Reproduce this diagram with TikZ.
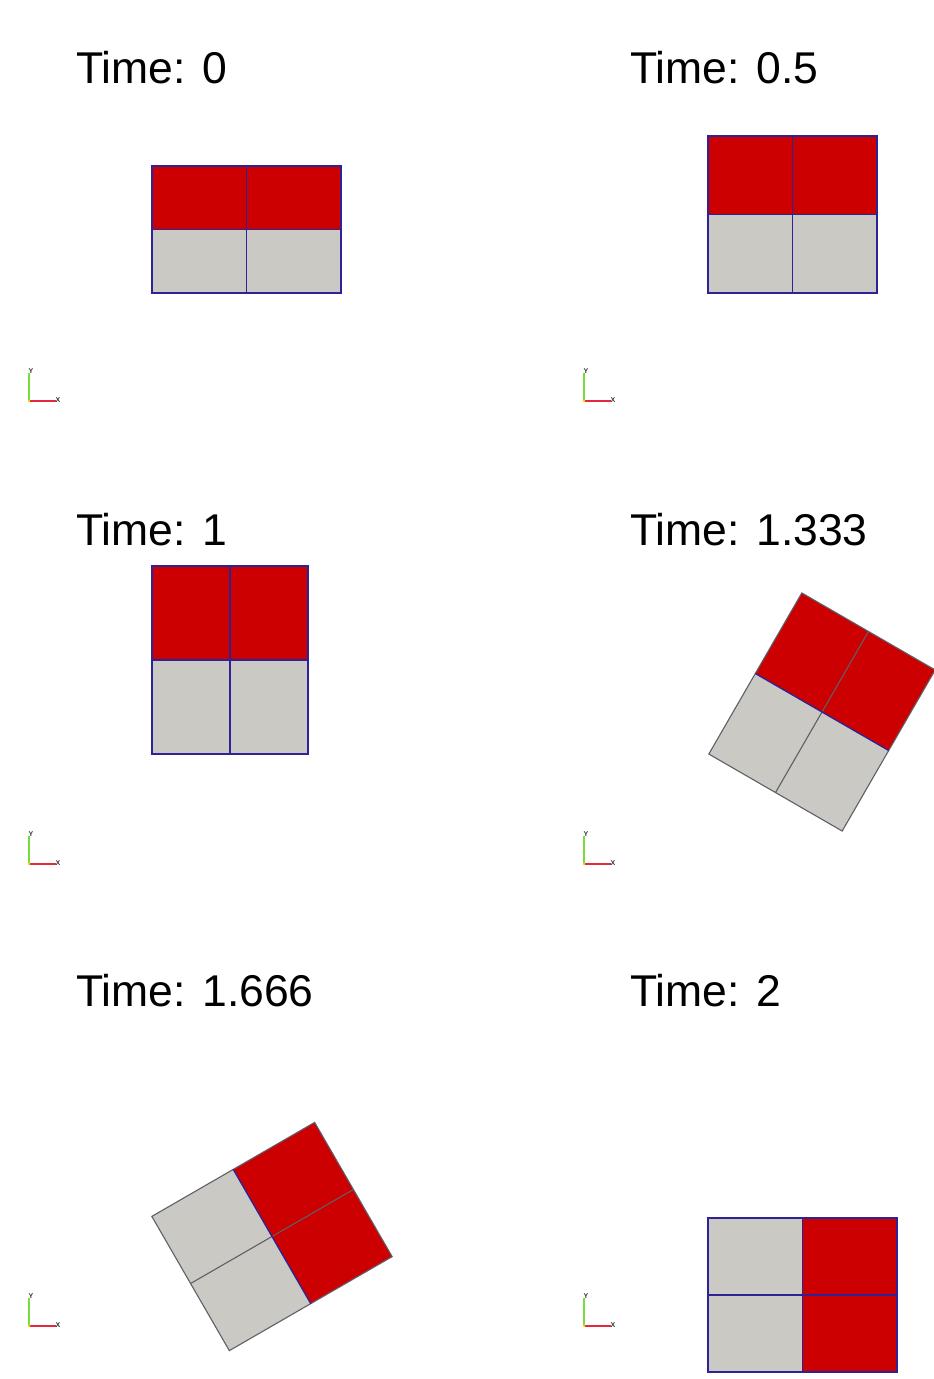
\documentclass[tikz,border=0pt]{standalone}
\usepackage{fontspec}
\setmainfont{Liberation Sans}
\definecolor{cellred}{RGB}{204,0,0}
\definecolor{cellgray}{RGB}{203,201,195}
\definecolor{edgeblue}{RGB}{45,35,150}
\definecolor{edgegray}{RGB}{95,95,105}
\definecolor{axred}{RGB}{230,40,60}
\definecolor{axgreen}{RGB}{120,220,60}
\begin{document}
\begin{tikzpicture}[x=1pt,y=-1pt,
  lbl/.style={anchor=base west, inner sep=0pt, font=\fontsize{44.5}{50}\selectfont},
  axlbl/.style={inner sep=0pt, font=\fontsize{7}{7}\selectfont\bfseries, text=black!80},
  pics/mesh/.style n args={3}{code={
    \fill[cellred] (-#1/2,-#2/2) rectangle (#1/2,0);
    \fill[cellgray] (-#1/2,0) rectangle (#1/2,#2/2);
    \draw[#3, line width=1.1pt] (0,-#2/2) -- (0,#2/2);
    \draw[#3, line width=1.1pt, line join=miter] (-#1/2,-#2/2) rectangle (#1/2,#2/2);
    \draw[edgeblue, line width=1.3pt] (-#1/2,0) -- (#1/2,0);
  }},
  pics/axes/.style={code={
    \draw[axgreen, line width=1.3pt] (0,0) -- (0,-28);
    \draw[axred, line width=1.3pt] (0,0) -- (27,0);
    \fill[yellow!80!orange] (0,0) circle (1.4);
    \node[axlbl] at (2,-30) {Y};
    \node[axlbl] at (29,-1) {X};
  }}]
\useasboundingbox (0,0) rectangle (934,1379);
\fill[white] (0,0) rectangle (934,1379);

% labels
\node[lbl] (t0) at (76,83) {Time: 0};
\node[lbl] (t1) at (630,83) {Time: 0.5};
\node[lbl] (t2) at (76,545) {Time: 1};
\node[lbl] (t3) at (630,545) {Time: 1.333};
\node[lbl] (t4) at (76,1006) {Time: 1.666};
\node[lbl] (t5) at (630,1006) {Time: 2};

% meshes
\pic at (246.5,229.5) {mesh={189}{127}{edgeblue}};
\pic at (792.5,214.5) {mesh={169}{157}{edgeblue}};
\pic at (230,660) {mesh={156}{188}{edgeblue}};
\pic[rotate=-30] at (822,712) {mesh={154}{186}{edgegray}};
\pic[rotate=-60] at (272,1236.5) {mesh={155}{188}{edgegray}};
\pic[rotate=-90] at (802.5,1295) {mesh={154}{189}{edgeblue}};

% orientation axes
\pic at (29,401) {axes};
\pic at (584,401) {axes};
\pic at (29,864) {axes};
\pic at (584,864) {axes};
\pic at (29,1326) {axes};
\pic at (584,1326) {axes};
\end{tikzpicture}
\end{document}
